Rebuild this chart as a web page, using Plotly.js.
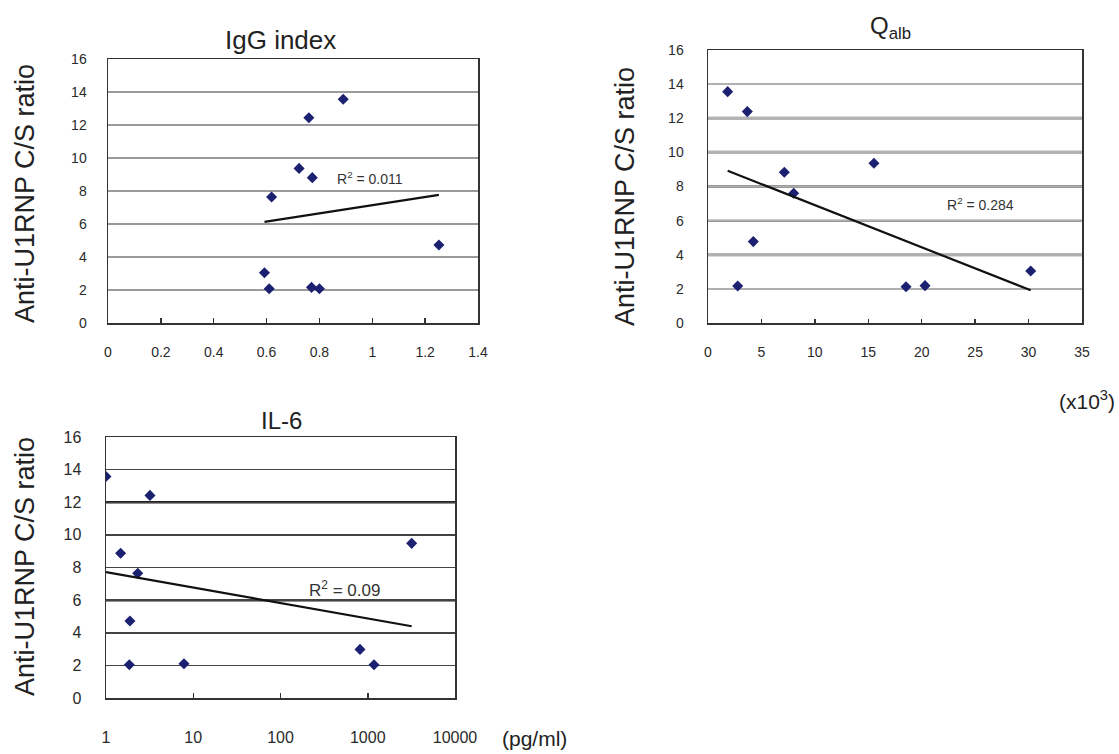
<!DOCTYPE html>
<html>
<head>
<meta charset="utf-8">
<script src="https://cdn.plot.ly/plotly-3.0.1.min.js"></script>
<style>
  html, body { margin: 0; padding: 0; background: #fff; }
  #chart { width: 1119px; height: 754px; }
</style>
</head>
<body>
<div id="chart"></div>
<script>
// ---- Data ----
const iggX  = [0.89, 0.76, 0.723, 0.773, 0.619, 1.252, 0.592, 0.61, 0.77, 0.80];
const iggY  = [13.56, 12.44, 9.37, 8.81, 7.64, 4.73, 3.05, 2.08, 2.16, 2.08];
const qalbX = [1.84, 3.68, 7.14, 8.02, 15.53, 4.24, 2.78, 18.53, 20.31, 30.2];
const qalbY = [13.56, 12.39, 8.83, 7.60, 9.36, 4.77, 2.17, 2.13, 2.19, 3.05];
const il6X  = [1.0, 3.19, 1.47, 2.31, 3187, 1.88, 1.85, 7.83, 815, 1180];
const il6Y  = [13.58, 12.42, 8.87, 7.64, 9.48, 4.72, 2.04, 2.10, 2.98, 2.04];
const r2Labels = ['0.011', '0.284', '0.09'];
const panelTitles = ['IgG index', 'Q<sub>alb</sub>', 'IL-6'];
const yTitle = 'Anti-U1RNP C/S ratio';
const il6TickVals = [1, 10, 100, 1000, 10000];
const il6TickText = ['1', '10', '100', '1000', '10000'];

// ---- Least-squares trend lines (as the spreadsheet draws them) ----
function fitLine(xs, ys, tf) {
  const t = xs.map(tf);
  const n = t.length;
  const mt = t.reduce((a, b) => a + b, 0) / n;
  const my = ys.reduce((a, b) => a + b, 0) / n;
  let sxy = 0, sxx = 0;
  for (let i = 0; i < n; i++) { sxy += (t[i] - mt) * (ys[i] - my); sxx += (t[i] - mt) ** 2; }
  const slope = sxy / sxx, icpt = my - slope * mt;
  const x0 = Math.min(...xs), x1 = Math.max(...xs);
  return { x: [x0, x1], y: [x0, x1].map(v => slope * tf(v) + icpt) };
}
const ident = v => v;
const t1 = fitLine(iggX, iggY, ident);
const t2 = fitLine(qalbX, qalbY, ident);
const t3 = fitLine(il6X, il6Y, Math.log10);

const markerStyle = { symbol: 'diamond', size: 8.5, color: '#1b2170' };
const lineStyle = { color: '#111', width: 2.2 };

const traces = [
  { x: iggX, y: iggY, xaxis: 'x', yaxis: 'y', mode: 'markers', type: 'scatter', marker: markerStyle },
  { x: t1.x, y: t1.y, xaxis: 'x', yaxis: 'y', mode: 'lines', type: 'scatter', line: lineStyle },
  { x: qalbX, y: qalbY, xaxis: 'x2', yaxis: 'y2', mode: 'markers', type: 'scatter', marker: markerStyle },
  { x: t2.x, y: t2.y, xaxis: 'x2', yaxis: 'y2', mode: 'lines', type: 'scatter', line: lineStyle },
  { x: il6X, y: il6Y, xaxis: 'x3', yaxis: 'y3', mode: 'markers', type: 'scatter', marker: markerStyle },
  { x: t3.x, y: t3.y, xaxis: 'x3', yaxis: 'y3', mode: 'lines', type: 'scatter', line: lineStyle }
];

const W = 1119, H = 754;
const px = v => v / W, py = v => 1 - v / H;
const tickFam = 'Liberation Sans Narrow, Liberation Sans, Arial, sans-serif';
const txtFam = 'Liberation Sans, Arial, sans-serif';

function yAx(dom, anchor, fs, grid, standoff) {
  return {
    domain: dom, anchor: anchor, range: [0, 16], dtick: 2, tick0: 0,
    showgrid: true, gridcolor: grid, gridwidth: 1.5, zeroline: false,
    showline: true, mirror: true, linecolor: '#333', linewidth: 1.5,
    ticks: '', ticklabelstandoff: standoff,
    tickfont: { family: tickFam, size: fs, color: '#2a2a2a' }, fixedrange: true
  };
}
function xAx(dom, anchor, extra, fs, standoff) {
  return Object.assign({
    domain: dom, anchor: anchor, showgrid: false, zeroline: false,
    showline: true, mirror: true, linecolor: '#333', linewidth: 1.5,
    ticks: 'inside', ticklen: 5, tickcolor: '#333', tickwidth: 1.5,
    ticklabelstandoff: standoff,
    tickfont: { family: tickFam, size: fs, color: '#2a2a2a' }, fixedrange: true
  }, extra);
}

// darker grid levels drawn over the light grid (appearance of the original)
function gridShapes(levels, xref, yref, color, width) {
  return levels.map(v => ({
    type: 'line', xref: xref + ' domain', yref: yref, x0: 0, x1: 1, y0: v, y1: v,
    line: { color: color, width: width }, layer: 'below'
  }));
}

const layout = {
  width: W, height: H,
  margin: { l: 0, r: 0, t: 0, b: 0 },
  paper_bgcolor: '#fff', plot_bgcolor: '#fff',
  showlegend: false,
  xaxis:  xAx([px(108), px(478)], 'y',  { range: [0, 1.4], dtick: 0.2 }, 14, 16),
  yaxis:  yAx([py(323), py(59)], 'x', 14, '#9a9a9a', 17),
  xaxis2: xAx([px(708), px(1082)], 'y2', { range: [0, 35], dtick: 5, ticklen: 4 }, 14, 16),
  yaxis2: yAx([py(323), py(50)], 'x2', 14, '#b0b0b0', 20),
  xaxis3: xAx([px(106), px(455)], 'y3', { type: 'log', range: [0, 4], tickvals: il6TickVals, ticktext: il6TickText }, 16, 24),
  yaxis3: yAx([py(698), py(437)], 'x3', 16, '#444', 20),
  shapes: [].concat(
    gridShapes([14, 8, 2], 'x', 'y', '#222', 2),
    gridShapes([12, 10, 4], 'x2', 'y2', '#b5b5b5', 3.5),
    gridShapes([14, 8, 6, 2], 'x2', 'y2', '#333', 1.8),
    gridShapes([12, 6], 'x3', 'y3', '#222', 2.5)
  ),
  annotations: [
    { text: panelTitles[0], xref: 'paper', yref: 'paper', x: px(280), y: py(40), showarrow: false,
      xanchor: 'center', yanchor: 'middle', font: { family: txtFam, size: 26, color: '#222' } },
    { text: panelTitles[1], xref: 'paper', yref: 'paper', x: px(890), y: py(27), showarrow: false,
      xanchor: 'center', yanchor: 'middle', font: { family: txtFam, size: 24, color: '#222' } },
    { text: panelTitles[2], xref: 'paper', yref: 'paper', x: px(281), y: py(420), showarrow: false,
      xanchor: 'center', yanchor: 'middle', font: { family: txtFam, size: 24, color: '#222' } },
    { text: yTitle, xref: 'paper', yref: 'paper', x: px(25), y: py(194), textangle: -90, showarrow: false,
      xanchor: 'center', yanchor: 'middle', font: { family: txtFam, size: 27, color: '#222' } },
    { text: yTitle, xref: 'paper', yref: 'paper', x: px(625), y: py(197), textangle: -90, showarrow: false,
      xanchor: 'center', yanchor: 'middle', font: { family: txtFam, size: 27, color: '#222' } },
    { text: yTitle, xref: 'paper', yref: 'paper', x: px(25), y: py(567), textangle: -90, showarrow: false,
      xanchor: 'center', yanchor: 'middle', font: { family: txtFam, size: 27, color: '#222' } },
    { text: 'R<sup>2</sup> = ' + r2Labels[0], xref: 'x', yref: 'y', x: 0.86, y: 8.8, showarrow: false,
      xanchor: 'left', yanchor: 'middle', font: { family: tickFam, size: 14, color: '#333' } },
    { text: 'R<sup>2</sup> = ' + r2Labels[1], xref: 'x2', yref: 'y2', x: 22.2, y: 6.96, showarrow: false,
      xanchor: 'left', yanchor: 'middle', font: { family: tickFam, size: 14, color: '#333' } },
    { text: 'R<sup>2</sup> = ' + r2Labels[2], xref: 'x3', yref: 'y3', x: 2.3, y: 6.7, showarrow: false,
      xanchor: 'left', yanchor: 'middle', font: { family: tickFam, size: 17, color: '#333' } },
    { text: '(x10<sup>3</sup>)', xref: 'paper', yref: 'paper', x: px(1117), y: py(400), showarrow: false,
      xanchor: 'right', yanchor: 'middle', font: { family: txtFam, size: 21, color: '#222' } },
    { text: '(pg/ml)', xref: 'paper', yref: 'paper', x: px(500), y: py(738), showarrow: false,
      xanchor: 'left', yanchor: 'middle', font: { family: txtFam, size: 21, color: '#222' } }
  ]
};

Plotly.newPlot('chart', traces, layout, { staticPlot: true, displayModeBar: false });
</script>
</body>
</html>
